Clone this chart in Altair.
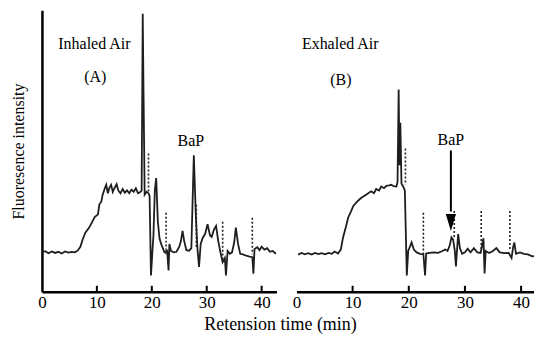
import altair as alt
import pandas as pd

FONT = "Liberation Serif, Times New Roman, Times, Nimbus Roman, DejaVu Serif, serif"

# ---- Panel A (Inhaled Air) trace: retention time (min), fluorescence (relative)
time_a = [0.0, 0.6, 1.2, 1.8, 2.4, 3.0, 3.6, 4.2, 4.8, 5.4, 6.0, 6.5, 7.0, 7.4, 7.9,
          8.6, 9.2, 9.6, 10.2, 10.45, 10.8, 11.06, 11.4, 11.7, 12.0, 12.3, 12.6, 12.9,
          13.2, 13.6, 13.9, 14.3, 14.7, 15.1, 15.5, 15.9, 16.3, 16.7, 17.1, 17.5, 17.9,
          18.15, 18.35, 18.5, 18.7, 19.06, 19.4, 19.6, 19.85, 20.1, 20.3, 20.55, 20.8,
          21.1, 21.4, 21.7, 22.3, 22.8, 23.05, 23.2, 23.5, 24.0, 24.5, 25.0, 25.3, 25.6,
          25.9, 26.3, 26.8, 27.2, 27.65, 28.0, 28.3, 28.6, 28.9, 29.3, 29.7, 30.15, 30.6,
          30.9, 31.3, 31.7, 32.1, 32.5, 32.9, 33.3, 33.5, 33.8, 34.2, 34.6, 35.0, 35.3,
          35.7, 36.1, 36.6, 37.2, 37.8, 38.3, 38.5, 38.7, 39.2, 39.6, 40.0, 40.5, 41.0,
          41.5, 42.0, 42.6]
intensity_a = [14.0, 14.4, 13.7, 14.3, 13.8, 14.2, 13.6, 14.3, 13.9, 14.2, 14.0, 14.6, 16.0,
               18.5, 21.0, 22.8, 25.0, 26.5, 27.5, 31.0, 32.0, 34.5, 36.5, 38.0, 35.0, 37.0,
               38.0, 35.5, 36.8, 38.2, 36.0, 35.0, 36.5, 35.2, 36.0, 35.0, 36.3, 35.5, 36.8,
               35.0, 35.4, 36.0, 98.8, 70.0, 34.5, 35.5, 35.0, 34.0, 5.8, 14.0, 20.0, 36.0,
               40.4, 25.0, 19.0, 17.0, 14.0, 14.5, 7.6, 17.0, 14.5, 14.0, 14.2, 16.0, 18.0,
               21.6, 18.0, 14.8, 14.6, 15.5, 48.5, 28.0, 15.5, 8.8, 17.0, 19.3, 20.5, 24.0,
               20.0, 19.5, 22.0, 23.4, 18.0, 14.0, 10.5, 12.0, 5.8, 14.5, 13.5, 14.0, 17.5,
               22.8, 17.0, 13.5, 13.3, 12.8, 12.5, 12.3, 6.4, 15.2, 15.8, 14.8, 16.0, 15.0,
               15.5, 14.2, 14.5, 13.5]

# ---- Panel B (Exhaled Air) trace
time_b = [0.3, 0.9, 1.5, 2.1, 2.7, 3.3, 3.9, 4.5, 5.1, 5.7, 6.3, 6.8, 7.4, 7.9, 8.3, 8.8,
          9.2, 9.7, 10.1, 10.8, 11.5, 12.4, 13.3, 13.8, 14.2, 14.7, 15.1, 15.6, 16.0, 16.5,
          16.9, 17.3, 17.8, 18.0, 18.2, 18.35, 18.5, 18.7, 19.0, 19.3, 19.65, 19.9, 20.2,
          20.5, 20.9, 21.4, 22.0, 22.6, 22.9, 23.1, 23.7, 24.5, 25.2, 25.9, 26.5, 26.9,
          27.3, 27.6, 27.9, 28.2, 28.4, 28.6, 28.8, 29.1, 29.5, 30.0, 30.5, 31.0, 31.6,
          32.2, 32.8, 33.3, 33.5, 33.7, 34.3, 35.0, 35.6, 36.2, 37.0, 37.8, 38.3, 38.6,
          38.8, 39.1, 39.8, 40.5, 41.2, 42.0, 42.8, 43.5]
intensity_b = [13.2, 13.8, 13.3, 13.7, 13.2, 13.8, 13.4, 13.7, 13.3, 13.8, 13.5, 14.3, 13.6,
               15.0, 19.3, 23.0, 26.3, 28.5, 30.4, 32.0, 33.3, 34.5, 35.7, 35.0, 36.5, 36.0,
               37.4, 36.8, 37.6, 37.8, 38.0, 37.5, 37.4, 39.0, 71.9, 45.0, 60.0, 38.5, 37.4,
               36.0, 5.8, 14.5, 16.0, 17.5, 15.0, 14.0, 13.5, 13.4, 5.8, 13.6, 13.8, 14.0,
               13.8, 14.4, 15.0, 14.5, 16.5, 19.3, 18.5, 14.5, 9.0, 15.0, 20.5, 15.5, 13.5,
               14.0, 15.3, 14.0, 15.5, 14.0, 13.8, 19.0, 6.5, 14.5, 13.8, 14.5, 15.5, 14.0,
               13.7, 13.8, 12.0, 16.0, 17.5, 13.5, 14.0, 13.5, 13.3, 12.6, 12.8, 12.3]

# ---- dotted peak markers
marker_time_a = [19.4, 22.6, 28.1, 32.9, 38.3]
marker_top_a = [49.1, 28.1, 30.9, 24.9, 26.3]
marker_bottom_a = [35.1, 13.3, 15.8, 10.5, 13.3]
marker_time_b = [19.4, 22.6, 28.1, 32.9, 38.0]
marker_top_b = [50.9, 28.1, 28.7, 28.7, 28.7]
marker_bottom_b = [38.0, 13.5, 19.3, 14.6, 15.2]

# ---- annotations
text_a = ["Inhaled Air", "(A)", "BaP"]
text_time_a = [9.55, 9.7, 27.1]
text_val_a = [88.1, 76.3, 53.5]
text_b = ["Exhaled Air", "(B)", "BaP"]
text_time_b = [7.8, 7.9, 27.5]
text_val_b = [88.1, 75.1, 54.0]

arrow_time_b = [27.5]
arrow_top_b = [50.2]
arrow_shaft_end_b = [28.5]
arrow_head_b = [24.6]

tick_values = [10, 20, 30, 40]
label_values = [0, 10, 20, 30, 40]

X_MAX_A = 42.7
X_MAX_B = 42.3
PLOT_H = 282


def panel(times, vals, mt, mtop, mbot, txt, tt, tv, xmax, width, show_y, arrow=None):
    xs = alt.Scale(domain=[0, xmax], nice=False, zero=False)
    ys = alt.Scale(domain=[0, 100], nice=False, zero=False)
    xaxis = alt.Axis(values=label_values, title=None, ticks=False, grid=False,
                     labelFont=FONT, labelFontSize=17, labelColor="black",
                     labelPadding=3, labelFlush=False,
                     domainColor="black", domainWidth=2.5)
    if show_y:
        yaxis = alt.Axis(title="Fluoresence intensity", labels=False, ticks=False, grid=False,
                         domainColor="black", domainWidth=2.5,
                         titleFont=FONT, titleFontSize=16, titleFontWeight="normal",
                         titleColor="black", titlePadding=15)
    else:
        yaxis = None

    df = pd.DataFrame({"t": times, "v": vals})
    line = alt.Chart(df).mark_line(color="#1e1e1e", strokeWidth=1.8, clip=True).encode(
        x=alt.X("t:Q", scale=xs, axis=xaxis),
        y=alt.Y("v:Q", scale=ys, axis=yaxis),
    )
    dm = pd.DataFrame({"t": mt, "top": mtop, "bot": mbot})
    markers = alt.Chart(dm).mark_rule(color="#222222", strokeWidth=1.6, strokeDash=[2, 2]).encode(
        x=alt.X("t:Q", scale=xs), y=alt.Y("top:Q", scale=ys), y2="bot:Q")
    dt = pd.DataFrame({"t": tt, "v": tv, "s": txt})
    texts = alt.Chart(dt).mark_text(font=FONT, fontSize=16, color="black",
                                    baseline="middle", align="center").encode(
        x=alt.X("t:Q", scale=xs), y=alt.Y("v:Q", scale=ys), text="s:N")
    dk = pd.DataFrame({"t": tick_values})
    ticks = alt.Chart(dk).mark_rule(color="black", strokeWidth=2).encode(
        x=alt.X("t:Q", scale=xs), y=alt.value(PLOT_H), y2=alt.value(PLOT_H - 6))
    layers = [line, markers, texts, ticks]
    if arrow is not None:
        da = pd.DataFrame({"t": arrow[0], "top": arrow[1], "end": arrow[2], "head": arrow[3]})
        shaft = alt.Chart(da).mark_rule(color="black", strokeWidth=2).encode(
            x=alt.X("t:Q", scale=xs), y=alt.Y("top:Q", scale=ys), y2="end:Q")
        head = alt.Chart(da).mark_point(shape="M -0.6 -1 L 0.6 -1 L 0 1 Z", filled=True,
                                        size=289, color="black", opacity=1).encode(
            x=alt.X("t:Q", scale=xs), y=alt.Y("head:Q", scale=ys))
        layers += [shaft, head]
    return alt.layer(*layers).properties(width=width, height=PLOT_H)


pa = panel(time_a, intensity_a, marker_time_a, marker_top_a, marker_bottom_a,
           text_a, text_time_a, text_val_a, X_MAX_A, 235, True)
pb = panel(time_b, intensity_b, marker_time_b, marker_top_b, marker_bottom_b,
           text_b, text_time_b, text_val_b, X_MAX_B, 238, False,
           arrow=(arrow_time_b, arrow_top_b, arrow_shaft_end_b, arrow_head_b))

chart = alt.hconcat(pa, pb, spacing=15).properties(
    title=alt.TitleParams("Retension time (min)", orient="bottom", anchor="middle",
                          font=FONT, fontSize=18, fontWeight="normal", color="black",
                          offset=5, dx=8),
    padding={"left": 3, "top": 2, "right": 0, "bottom": 0},
    background="white",
).configure_view(stroke=None)

chart.save("out.html", embed_options={"renderer": "svg", "actions": False})
